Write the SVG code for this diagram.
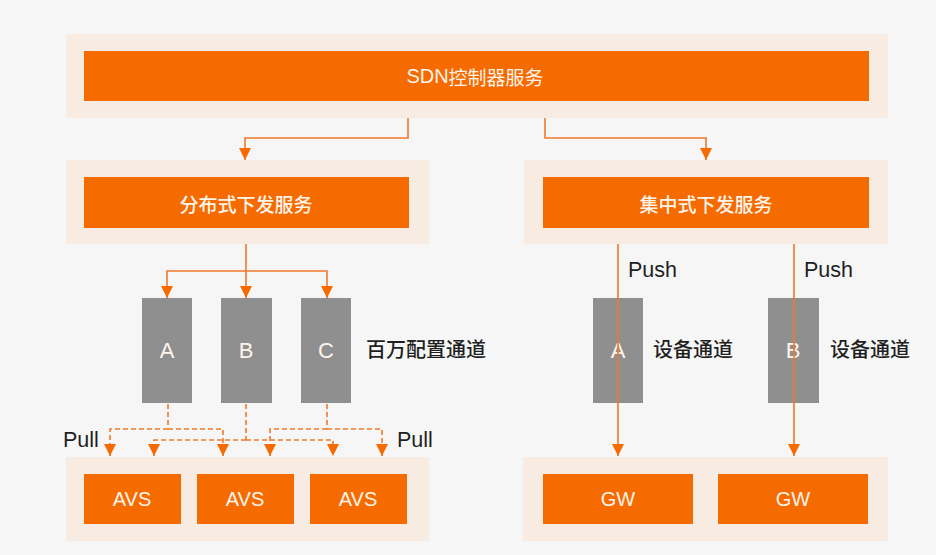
<svg xmlns="http://www.w3.org/2000/svg" width="936" height="555" viewBox="0 0 936 555">
<style>
.bg{fill:#f6f6f6}
.panel{fill:#f8ebe1}
.bar{fill:#f56b00}
.ch{fill:#8f8f8f}
.wt{fill:#fff4ec;font-family:"Liberation Sans","Noto Sans CJK SC",sans-serif;font-size:20px;text-anchor:middle;dominant-baseline:central}
.cjk{font-family:"Noto Sans CJK SC","Liberation Sans",sans-serif;font-size:19px}
.md{font-weight:500}
.big{font-size:22px}
.lb{fill:#1f1f1f;font-family:"Liberation Sans","Noto Sans CJK SC",sans-serif;font-size:20px;dominant-baseline:central}
.en{font-size:21.5px}
.ln{fill:none;stroke:#f0792a;stroke-width:1.6}
.ds{stroke-dasharray:5 3}
</style>
<defs>
<marker id="ah" markerUnits="userSpaceOnUse" markerWidth="12" markerHeight="12" viewBox="0 0 10 10" refX="10" refY="5" orient="auto">
<path d="M0,0 L10,5 L0,10 z" fill="#f56b00"/>
</marker>
</defs>
<rect class="bg" x="0" y="0" width="936" height="555"/>
<g id="sdn">
<rect class="panel" x="66" y="34" width="822" height="84"/>
<rect class="bar" x="84" y="51" width="785" height="50"/>
<text class="wt" x="475" y="76" style="font-size:20px">SDN<tspan class="cjk" style="font-size:19px">控制器服务</tspan></text>
</g>
<g id="dist">
<rect class="panel" x="66" y="160" width="363" height="84"/>
<rect class="bar" x="84" y="177" width="325" height="51"/>
<text class="wt cjk md" x="246" y="203">分布式下发服务</text>
</g>
<g id="central">
<rect class="panel" x="524" y="160" width="364" height="84"/>
<rect class="bar" x="543" y="177" width="326" height="51"/>
<text class="wt cjk md" x="706" y="203">集中式下发服务</text>
</g>
<g id="chA">
<rect class="ch" x="142" y="298" width="50" height="105"/>
<text class="wt big" x="167" y="350">A</text>
</g>
<g id="chB">
<rect class="ch" x="221" y="298" width="51" height="105"/>
<text class="wt big" x="246" y="350">B</text>
</g>
<g id="chC">
<rect class="ch" x="301" y="298" width="50" height="105"/>
<text class="wt big" x="326" y="350">C</text>
</g>
<g id="lbl-million"><text class="lb cjk md" x="366" y="350">百万配置通道</text></g>
<g id="avs">
<rect class="panel" x="66" y="457" width="363" height="84"/>
</g>
<g id="avs1"><rect class="bar" x="84" y="474" width="97" height="50"/><text class="wt" x="132" y="499">AVS</text></g>
<g id="avs2"><rect class="bar" x="197" y="474" width="97" height="50"/><text class="wt" x="245" y="499">AVS</text></g>
<g id="avs3"><rect class="bar" x="310" y="474" width="97" height="50"/><text class="wt" x="358" y="499">AVS</text></g>
<g id="chRA">
<rect class="ch" x="593" y="298" width="50" height="105"/>
<text class="wt big" x="618" y="350">A</text>
</g>
<g id="chRB">
<rect class="ch" x="768" y="298" width="51" height="105"/>
<text class="wt big" x="793" y="350">B</text>
</g>
<g id="lbl-dev1"><text class="lb cjk md" x="653" y="350">设备通道</text></g>
<g id="lbl-dev2"><text class="lb cjk md" x="830" y="350">设备通道</text></g>
<g id="gw">
<rect class="panel" x="523" y="457" width="365" height="84"/>
</g>
<g id="gw1"><rect class="bar" x="543" y="474" width="150" height="50"/><text class="wt" x="618" y="499">GW</text></g>
<g id="gw2"><rect class="bar" x="718" y="474" width="150" height="50"/><text class="wt" x="793" y="499">GW</text></g>
<g id="labels">
<text class="lb en" x="628" y="270">Push</text>
<text class="lb en" x="804" y="270">Push</text>
<text class="lb en" x="63" y="440">Pull</text>
<text class="lb en" x="397" y="440">Pull</text>
</g>
<g id="connectors">
<path class="ln" d="M408,118 V138 H245 V160" marker-end="url(#ah)"/>
<path class="ln" d="M545,118 V138 H706 V160" marker-end="url(#ah)"/>
<path class="ln" d="M246,244 V298" marker-end="url(#ah)"/>
<path class="ln" d="M246,271 H167 V298" marker-end="url(#ah)"/>
<path class="ln" d="M246,271 H327 V298" marker-end="url(#ah)"/>
<path class="ln" d="M618,244 V456" marker-end="url(#ah)"/>
<path class="ln" d="M794,244 V456" marker-end="url(#ah)"/>
<path class="ln ds" d="M168,404 V429"/>
<path class="ln ds" d="M168,429 H110 V456" marker-end="url(#ah)"/>
<path class="ln ds" d="M168,429 H223 V456" marker-end="url(#ah)"/>
<path class="ln ds" d="M246,404 V440"/>
<path class="ln ds" d="M246,440 H154 V456" marker-end="url(#ah)"/>
<path class="ln ds" d="M246,440 H333 V456" marker-end="url(#ah)"/>
<path class="ln ds" d="M327,404 V429"/>
<path class="ln ds" d="M327,429 H270 V456" marker-end="url(#ah)"/>
<path class="ln ds" d="M327,429 H382 V456" marker-end="url(#ah)"/>
</g>
</svg>
